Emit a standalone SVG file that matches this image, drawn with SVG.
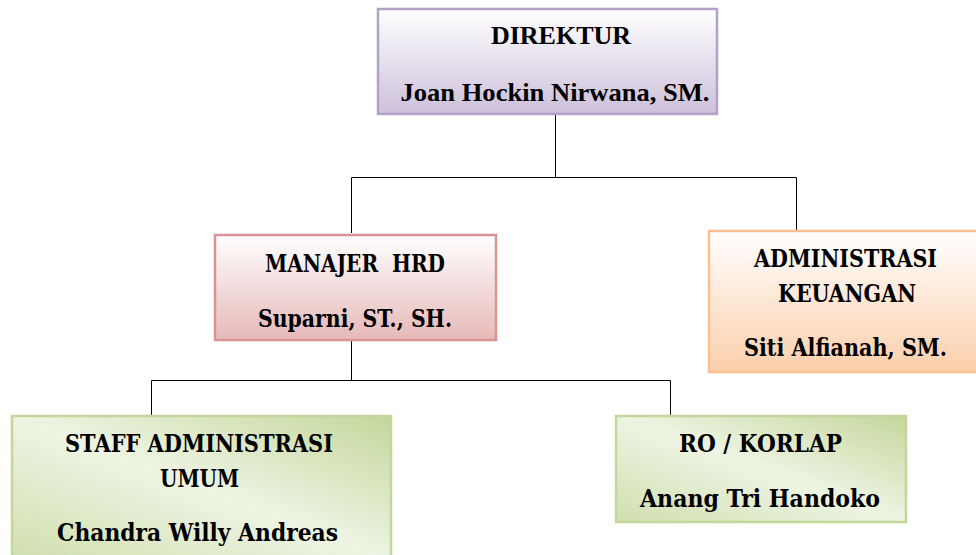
<svg xmlns="http://www.w3.org/2000/svg" width="976" height="555" viewBox="0 0 976 555">
<defs>
<linearGradient id="gPurple" x1="0" y1="0" x2="0" y2="1"><stop offset="0" stop-color="#ffffff"/><stop offset="1" stop-color="#ccc0da"/></linearGradient>
<linearGradient id="gRed" x1="0" y1="0" x2="0" y2="1"><stop offset="0" stop-color="#ffffff"/><stop offset="1" stop-color="#e6b9b8"/></linearGradient>
<linearGradient id="gOrange" x1="0" y1="0" x2="0" y2="1"><stop offset="0" stop-color="#ffffff"/><stop offset="1" stop-color="#fbcfab"/></linearGradient>
<linearGradient id="gGreen" x1="0" y1="1" x2="1" y2="0"><stop offset="0" stop-color="#cfdfae"/><stop offset="0.5" stop-color="#eef4e3"/><stop offset="1" stop-color="#c4d79c"/></linearGradient>
</defs>
<style>
.box{stroke-width:2.5}
.t1{font-family:"Liberation Serif","Times New Roman",serif;font-weight:bold;font-size:26px;fill:#000;text-anchor:middle}
.t2{font-family:"DejaVu Serif Condensed","DejaVu Serif","Liberation Serif",serif;font-weight:bold;font-size:25px;fill:#000;text-anchor:middle}
.conn{stroke:#000;stroke-width:1;fill:none}
</style>
<g id="connectors">
<path class="conn" d="M555.5,114 V177.5 M351.5,177.5 H796.5 M351.5,177.5 V233 M796.5,177.5 V230"/>
<path class="conn" d="M351.5,340 V380.5 M151.5,380.5 H670.5 M151.5,380.5 V415 M670.5,380.5 V415"/>
</g>
<g id="direktur">
<rect class="box" x="378" y="9" width="339" height="105" fill="url(#gPurple)" stroke="#b3a2c7"/>
<text class="t1" x="561" y="44">DIREKTUR</text>
<text class="t1" x="555" y="101" textLength="309" lengthAdjust="spacingAndGlyphs">Joan Hockin Nirwana, SM.</text>
</g>
<g id="manajer-hrd">
<rect class="box" x="215" y="235" width="281" height="105" fill="url(#gRed)" stroke="#d99594"/>
<text class="t2" x="355" y="272" xml:space="preserve" textLength="180" lengthAdjust="spacingAndGlyphs">MANAJER  HRD</text>
<text class="t2" x="355" y="327" textLength="194" lengthAdjust="spacingAndGlyphs">Suparni, ST., SH.</text>
</g>
<g id="administrasi-keuangan">
<rect class="box" x="709" y="231" width="270" height="141" fill="url(#gOrange)" stroke="#fac090"/>
<text class="t2" x="845.5" y="267" textLength="183" lengthAdjust="spacingAndGlyphs">ADMINISTRASI</text>
<text class="t2" x="847" y="302" textLength="138" lengthAdjust="spacingAndGlyphs">KEUANGAN</text>
<text class="t2" x="845.5" y="356" textLength="203" lengthAdjust="spacingAndGlyphs">Siti Alfianah, SM.</text>
</g>
<g id="staff-administrasi-umum">
<rect class="box" x="12" y="416" width="379" height="145" fill="url(#gGreen)" stroke="#c3d69b"/>
<text class="t2" x="199" y="452" textLength="268" lengthAdjust="spacingAndGlyphs">STAFF ADMINISTRASI</text>
<text class="t2" x="199.5" y="487" textLength="79" lengthAdjust="spacingAndGlyphs">UMUM</text>
<text class="t2" x="197.5" y="541" textLength="281" lengthAdjust="spacingAndGlyphs">Chandra Willy Andreas</text>
</g>
<g id="ro-korlap">
<rect class="box" x="616" y="416" width="290" height="106" fill="url(#gGreen)" stroke="#c3d69b"/>
<text class="t2" x="760.5" y="452" textLength="163" lengthAdjust="spacingAndGlyphs">RO / KORLAP</text>
<text class="t2" x="760" y="507" textLength="240" lengthAdjust="spacingAndGlyphs">Anang Tri Handoko</text>
</g>
</svg>
